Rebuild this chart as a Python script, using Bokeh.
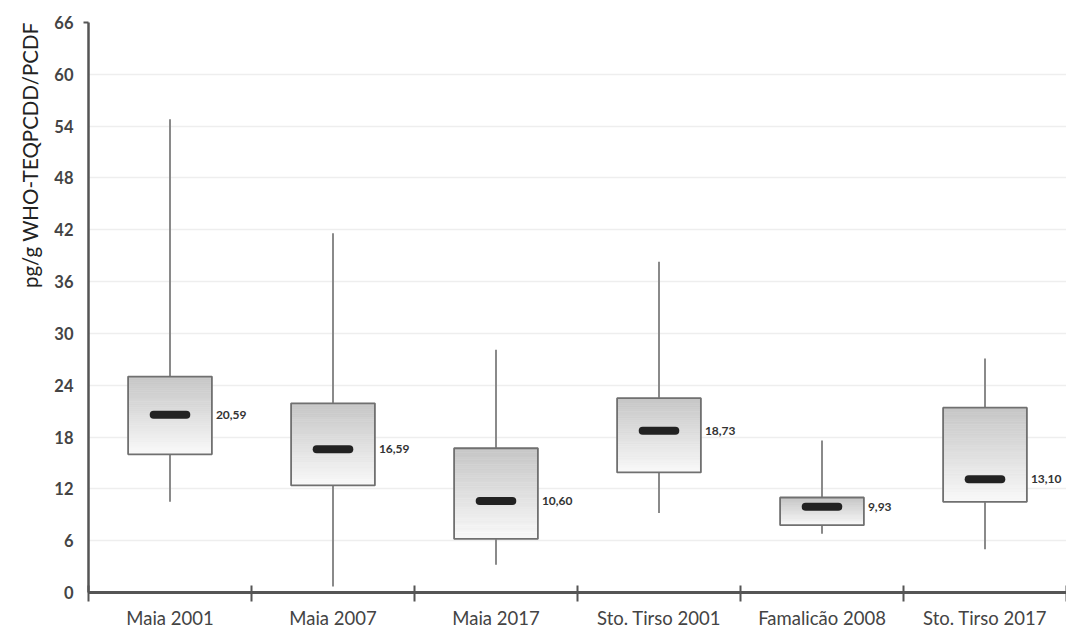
import numpy as np
from bokeh.plotting import figure
from bokeh.models import Range1d, FixedTicker, Title
from bokeh.embed import file_html
from bokeh.resources import INLINE
from bokeh.core.properties import value

# ---------------- data ----------------
categories = ["Maia 2001", "Maia 2007", "Maia 2017", "Sto. Tirso 2001", "Famalicão 2008", "Sto. Tirso 2017"]
whisker_low = [10.5, 0.7, 3.2, 9.2, 6.8, 5.0]
q1 = [16.0, 12.4, 6.2, 13.9, 7.8, 10.5]
median = [20.59, 16.59, 10.60, 18.73, 9.93, 13.10]
q3 = [25.0, 21.9, 16.7, 22.5, 11.0, 21.4]
whisker_high = [54.8, 41.6, 28.1, 38.3, 17.6, 27.1]
median_labels = ["20,59", "16,59", "10,60", "18,73", "9,93", "13,10"]
y_ticks = [0, 6, 12, 18, 24, 30, 36, 42, 48, 54, 60, 66]
y_label = "pg/g WHO-TEQPCDD/PCDF"

FONT = "Lato"
n = len(categories)
centers = np.arange(n) + 0.5
half_box = 0.257
half_med = 0.1

W, H = 1066, 631
LEFT = 88
p = figure(width=W, height=H, output_backend="svg", toolbar_location=None,
           x_range=Range1d(0, (W - LEFT) / 163), y_range=Range1d(0, 66),
           min_border_left=LEFT, min_border_right=0, min_border_top=22, min_border_bottom=36)
p.outline_line_color = None
p.background_fill_color = "white"
p.border_fill_color = "white"

# grid
p.xgrid.grid_line_color = None
p.ygrid.grid_line_color = "#eeeeee"
p.ygrid.grid_line_width = 1.5

# whiskers
p.segment(x0=centers, y0=q3, x1=centers, y1=whisker_high, line_color="#8a8a8a", line_width=2)
p.segment(x0=centers, y0=whisker_low, x1=centers, y1=q1, line_color="#8a8a8a", line_width=2)

# gradient boxes (sliced)
ns = 40
L, R, B, T, C = [], [], [], [], []
for i in range(n):
    edges = np.linspace(q1[i], q3[i], ns + 1)
    for k in range(ns):
        frac = (k + 0.5) / ns  # 0 bottom -> 1 top
        g = int(round(249 - frac * (249 - 198)))
        col = "#%02x%02x%02x" % (g, g, g)
        L.append(centers[i] - half_box)
        R.append(centers[i] + half_box)
        B.append(edges[k])
        T.append(edges[k + 1])
        C.append(col)
p.quad(left=L, right=R, bottom=B, top=T, fill_color=C, line_color=C, line_width=0.6)

# box borders
p.quad(left=centers - half_box, right=centers + half_box, bottom=q1, top=q3,
       fill_color=None, line_color="#707070", line_width=1.8)

# medians
p.segment(x0=centers - half_med, y0=median, x1=centers + half_med, y1=median,
          line_color="#222222", line_width=8, line_cap="round")

# median labels
p.text(x=centers + half_box, y=median, text=median_labels, x_offset=4,
       text_baseline="middle", text_align="left", text_font_size="12px",
       text_font=value(FONT), text_font_style="bold", text_color="#333333")

# x axis
xa = p.xaxis[0]
xa.ticker = FixedTicker(ticks=list(centers), minor_ticks=list(range(0, n + 1)))
xa.major_label_overrides = {float(c): name for c, name in zip(centers, categories)}
xa.major_tick_line_color = None
xa.major_tick_in = 0
xa.major_tick_out = 0
xa.minor_tick_in = 7
xa.minor_tick_out = 9
xa.minor_tick_line_color = "#555555"
xa.minor_tick_line_width = 2
xa.axis_line_color = "#555555"
xa.axis_line_width = 3
xa.major_label_standoff = 5
xa.major_label_text_font = FONT
xa.major_label_text_font_size = "18.5px"
xa.major_label_text_color = "#444444"

# y axis
ya = p.yaxis[0]
ya.ticker = FixedTicker(ticks=y_ticks, minor_ticks=[y_ticks[-1]])
ya.major_tick_line_color = None
ya.major_tick_in = 0
ya.major_tick_out = 0
ya.minor_tick_line_color = "#555555"
ya.minor_tick_line_width = 2
ya.minor_tick_in = 0
ya.minor_tick_out = 5
ya.axis_line_color = "#555555"
ya.axis_line_width = 2.5
ya.major_label_standoff = 10
ya.major_label_text_font = FONT
ya.major_label_text_font_size = "16.5px"
ya.major_label_text_font_style = "bold"
ya.major_label_text_color = "#444444"

p.add_layout(Title(text=y_label, align="right", text_font=FONT, text_font_size="20.5px",
                   text_font_style="normal", text_color="#222222", standoff=19), "left")

open("out.html", "w").write(file_html(p, INLINE))
